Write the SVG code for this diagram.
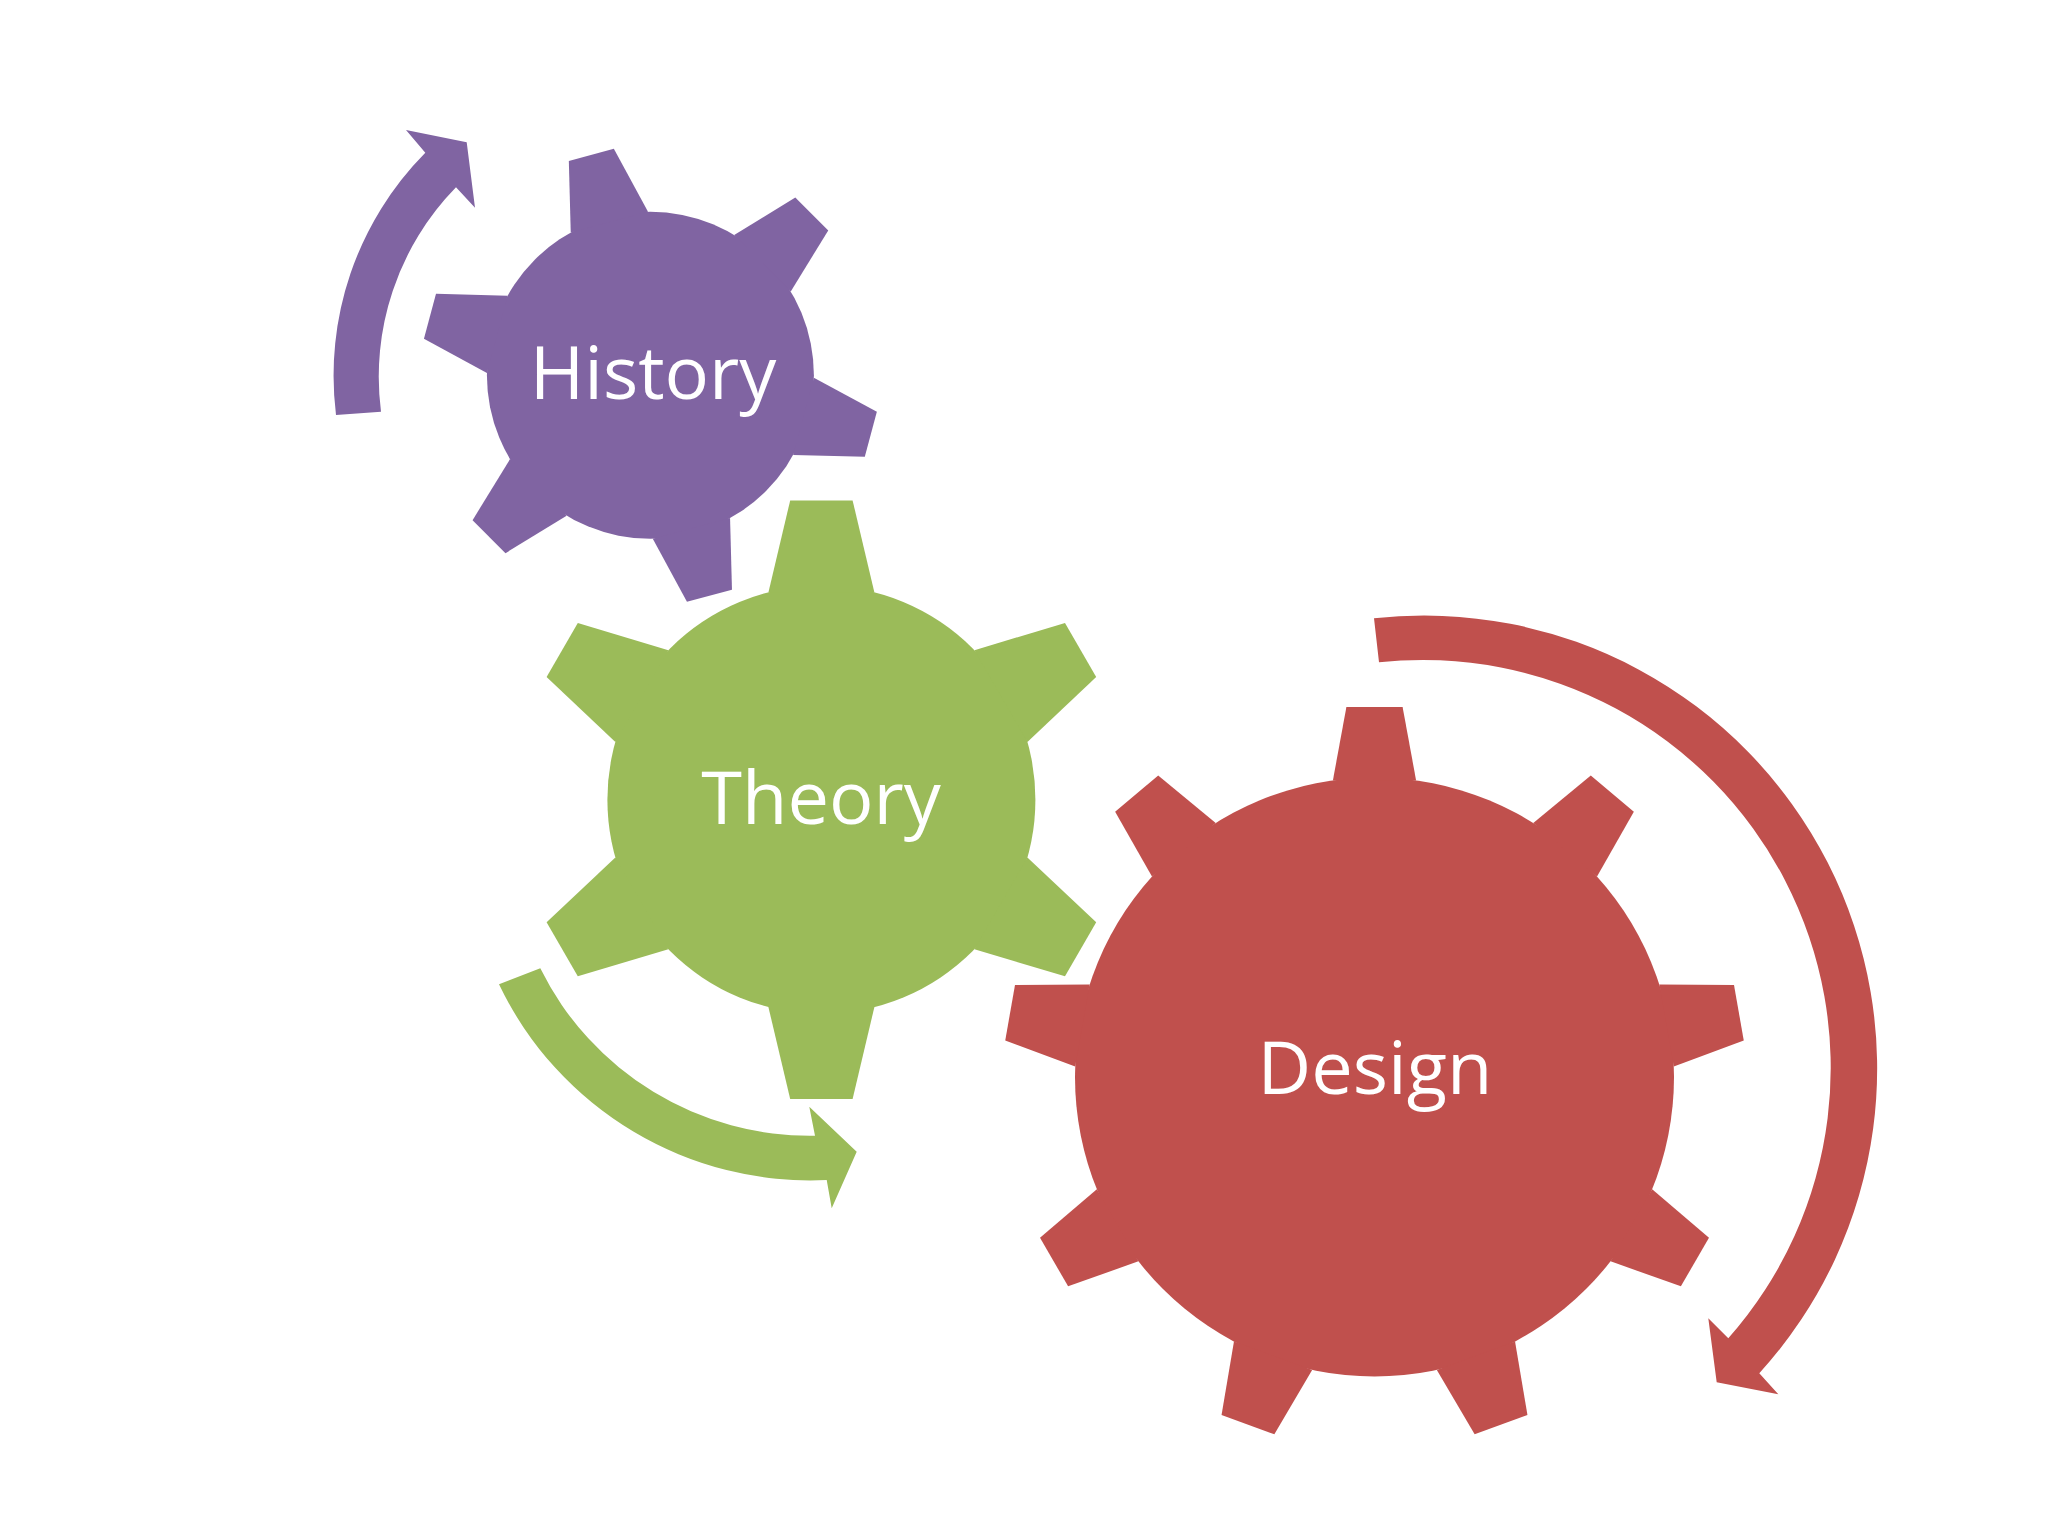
<svg xmlns="http://www.w3.org/2000/svg" width="2048" height="1536" viewBox="0 0 2048 1536">
<style>
.purple{fill:#8064A2}
.green{fill:#9BBB59}
.red{fill:#C0504D}
.label{font-family:"Open Sans","Liberation Sans",sans-serif;font-size:74px;fill:#FFFFFF;text-anchor:middle}
</style>
<defs>
<path id="toothH" d="M-40,-158.5 L-23.3,-228.2 L23.3,-228.2 L40,-158.5Z"/>
<path id="toothT" d="M-53,-207.3 L-31.2,-299.3 L31.2,-299.3 L53,-207.3Z"/>
<path id="toothD" d="M-41.6,-296.6 L-28.1,-370 L28.1,-370 L41.6,-296.6Z"/>
</defs>
<rect width="2048" height="1536" fill="#FFFFFF"/>
<g id="connectors">
<path class="purple" d="M336,415 A317,317 0 0 1 425.3,152.7 L406,130 L466.7,142.3 L475,207.7 L456,187.3 A271,271 0 0 0 381,411.7 Z"/>
<path class="green" d="M499,984.3 A345,345 0 0 0 826.7,1180 L831.7,1208.3 L856.7,1151.7 L809.3,1106.7 L815,1135.7 A300.5,300.5 0 0 1 540.3,968.3 Z"/>
<path class="red" d="M1374,618.3 A453,453 0 0 1 1759.3,1373.3 L1778.3,1394.3 L1716.7,1382.3 L1708.3,1318.3 L1728.3,1338.3 A408,408 0 0 0 1379,662.3 Z"/>
</g>
<g id="history">
<g class="purple" transform="translate(650.4,375.3)">
<circle r="163.5"/>
<use href="#toothH" transform="rotate(-15)"/>
<use href="#toothH" transform="rotate(45)"/>
<use href="#toothH" transform="rotate(105)"/>
<use href="#toothH" transform="rotate(165)"/>
<use href="#toothH" transform="rotate(225)"/>
<use href="#toothH" transform="rotate(285)"/>
</g>
<text class="label" x="653" y="399">History</text>
</g>
<g id="theory">
<g class="green" transform="translate(821.4,799.7)">
<circle r="214"/>
<use href="#toothT"/>
<use href="#toothT" transform="rotate(60)"/>
<use href="#toothT" transform="rotate(120)"/>
<use href="#toothT" transform="rotate(180)"/>
<use href="#toothT" transform="rotate(240)"/>
<use href="#toothT" transform="rotate(300)"/>
</g>
<text class="label" x="821" y="824">Theory</text>
</g>
<g id="design">
<g class="red" transform="translate(1374.5,1077)">
<circle r="299.5"/>
<use href="#toothD"/>
<use href="#toothD" transform="rotate(40)"/>
<use href="#toothD" transform="rotate(80)"/>
<use href="#toothD" transform="rotate(120)"/>
<use href="#toothD" transform="rotate(160)"/>
<use href="#toothD" transform="rotate(200)"/>
<use href="#toothD" transform="rotate(240)"/>
<use href="#toothD" transform="rotate(280)"/>
<use href="#toothD" transform="rotate(320)"/>
</g>
<text class="label" x="1375" y="1094">Design</text>
</g>
</svg>
